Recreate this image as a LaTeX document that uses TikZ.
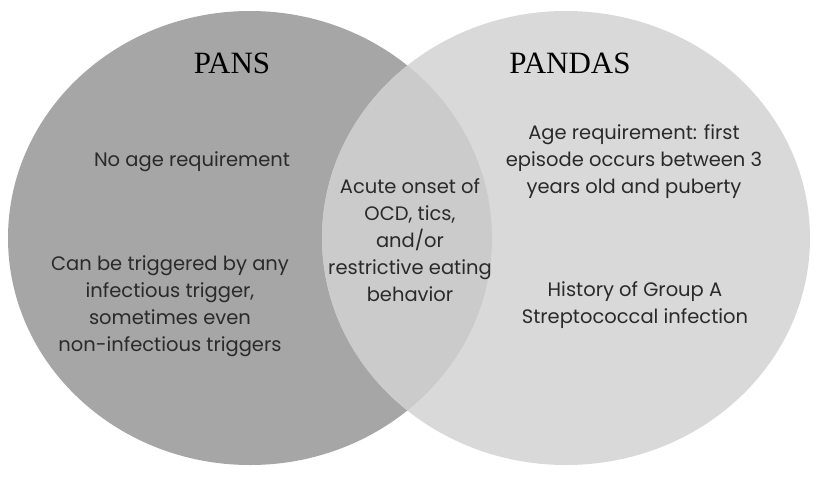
\documentclass[tikz,border=0pt]{standalone}
\usepackage{fontspec}
\newfontfamily\bodyfont{Poppins}
\newfontfamily\titlefont{Liberation Serif}
\definecolor{pansgray}{HTML}{A6A6A6}
\definecolor{pandasgray}{HTML}{D9D9D9}
\definecolor{bothgray}{HTML}{CBCBCB}
\definecolor{textgray}{HTML}{2A2A2A}
\begin{document}
\begin{tikzpicture}[x=1pt,y=-1pt,
    txt/.style={align=center,text=textgray,font=\bodyfont\fontsize{19.5}{27}\selectfont},
    ttl/.style={text=black,font=\titlefont\fontsize{31}{31}\selectfont}]
  \useasboundingbox (0,0) rectangle (817,479);
  \fill[white] (0,0) rectangle (817,479);
  \fill[pansgray] (250,238) ellipse [x radius=242pt, y radius=227pt];
  \fill[pandasgray] (566,238) ellipse [x radius=244pt, y radius=227pt];
  \begin{scope}
    \clip (250,238) ellipse [x radius=242pt, y radius=227pt];
    \fill[bothgray] (566,238) ellipse [x radius=244pt, y radius=227pt];
  \end{scope}
  \node[ttl] (pans) at (232,63) {PANS};
  \node[ttl] (pandas) at (570,63) {PANDAS};
  \node[txt] (noage) at (192,162) {No age requirement};
  \node[txt] (anytrigger) at (170,306) {Can be triggered by any\\infectious trigger,\\sometimes even\\non-infectious triggers};
  \node[txt] (onset) at (410,240) {Acute onset of\\OCD, tics,\\and/or\\restrictive eating\\behavior};
  \node[txt] (agereq) at (634,162) {Age requirement: first\\episode occurs between 3\\years old and puberty};
  \node[txt] (strep) at (635,305) {History of Group A\\Streptococcal infection};
\end{tikzpicture}
\end{document}
